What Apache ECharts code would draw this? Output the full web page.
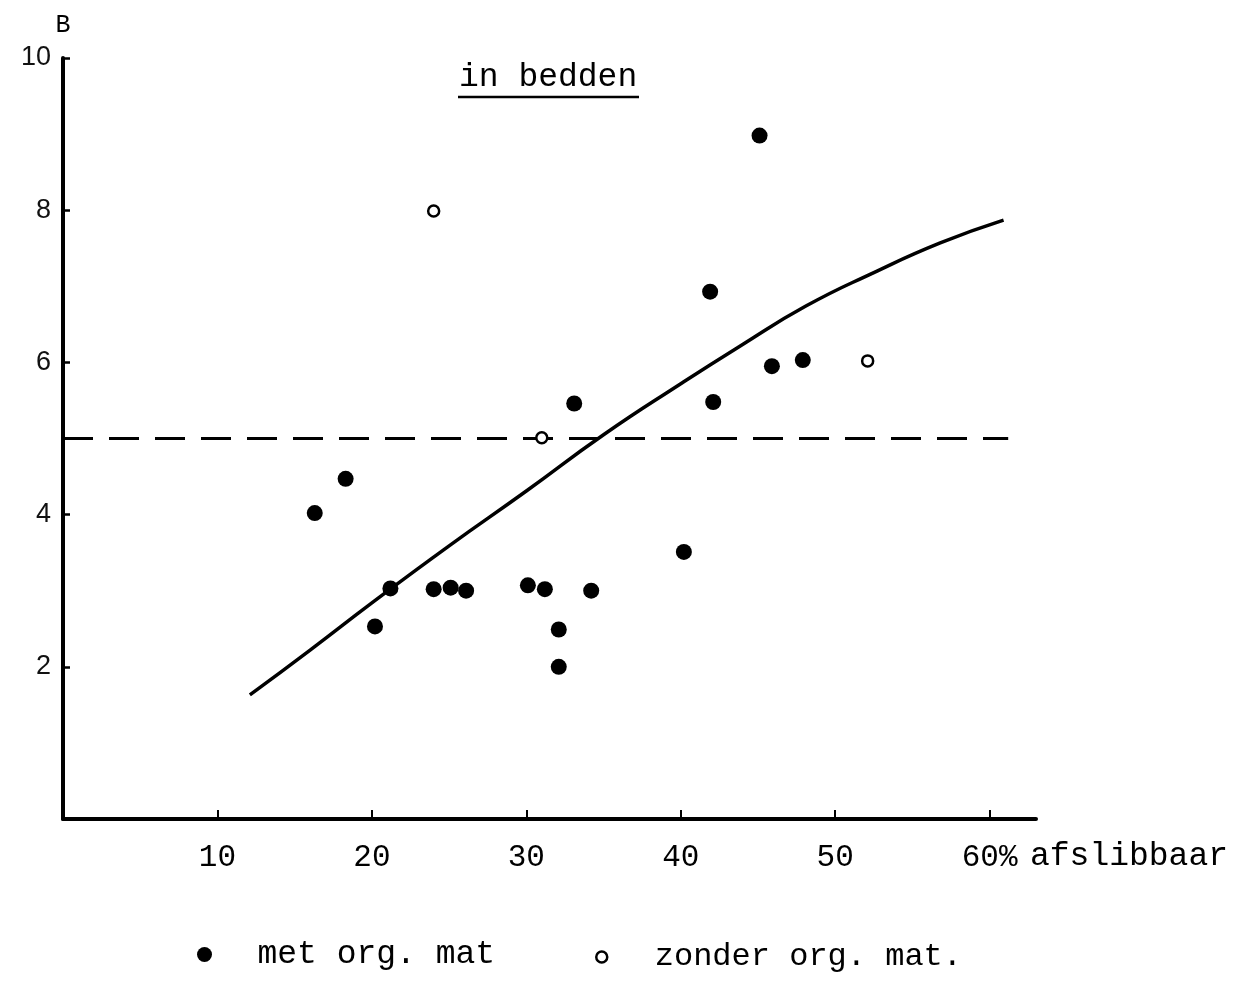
<!DOCTYPE html>
<html>
<head>
<meta charset="utf-8">
<script src="https://cdn.jsdelivr.net/npm/echarts@6/dist/echarts.min.js"></script>
<style>
  html, body { margin: 0; background: #fff; }
  #chart { width: 1242px; height: 990px; }
</style>
</head>
<body>
<div id="chart"></div>
<script>
// afslibbaar (%) vs B
const xTicks = [10, 20, 30, 40, 50, 60];
const yTicks = [2, 4, 6, 8, 10];

const metOrgMat = [
  [16.3, 4.02], [18.3, 4.47], [20.2, 2.53], [21.2, 3.03], [24.0, 3.02],
  [25.1, 3.04], [26.1, 3.0], [30.1, 3.07], [31.2, 3.02], [32.1, 2.49],
  [32.1, 2.0], [33.1, 5.46], [34.2, 3.0], [40.2, 3.51], [41.9, 6.93],
  [42.1, 5.48], [45.1, 8.98], [45.9, 5.95], [47.9, 6.03]
];
const zonderOrgMat = [[24.0, 7.99], [31.0, 5.01], [52.1, 6.02]];

const curve = [
  [12.1, 1.63], [16, 2.22], [20, 2.84], [25, 3.59], [30, 4.31], [35, 5.05],
  [40, 5.72], [43.8, 6.21], [48.1, 6.74], [52.5, 7.18], [56.8, 7.57], [60.9, 7.87]
];
const threshold = [[0, 5], [61.2, 5]];

const mono = "Liberation Mono";
const chart = echarts.init(document.getElementById("chart"));

chart.setOption({
  backgroundColor: "#fff",
  animation: false,
  grid: { left: 63, top: 58, width: 973, height: 761 },
  legend: [
    {
      data: [{ name: "met org. mat", icon: "circle" }],
      left: 192, top: 933,
      itemWidth: 96, itemHeight: 15,
      textStyle: { fontFamily: mono, fontSize: 33, color: "#000" }
    },
    {
      data: [{ name: "zonder org. mat.", icon: "circle" }],
      left: 590, top: 936,
      itemWidth: 96, itemHeight: 11,
      itemStyle: { color: "#fff", borderColor: "#000", borderWidth: 2.5 },
      textStyle: { fontFamily: mono, fontSize: 32, color: "#000" }
    }
  ],
  graphic: [
    {
      type: "text", left: 459, top: 61,
      style: { text: "in bedden", font: "33px 'Liberation Mono'", fill: "#000" }
    },
    {
      type: "line",
      shape: { x1: 458, y1: 97, x2: 639, y2: 97 },
      style: { stroke: "#000", lineWidth: 2.5 }
    }
  ],
  xAxis: {
    type: "value", min: 0, max: 63,
    name: "afslibbaar", nameLocation: "end", nameGap: -6,
    nameTextStyle: {
      fontFamily: mono, fontSize: 33, color: "#000",
      align: "left", verticalAlign: "top", padding: [21, 0, 0, 0]
    },
    axisLine: { lineStyle: { color: "#000", width: 4 } },
    axisTick: { inside: true, length: 9, customValues: xTicks, lineStyle: { color: "#000", width: 2 } },
    axisLabel: {
      customValues: xTicks, margin: 23,
      fontFamily: mono, fontSize: 31, color: "#000",
      formatter: (v) => (v === 60 ? "60%" : String(v))
    },
    splitLine: { show: false }
  },
  yAxis: {
    type: "value", min: 0, max: 10,
    name: "B", nameGap: 20,
    nameTextStyle: { fontFamily: mono, fontSize: 25, color: "#000", align: "center" },
    axisLine: { lineStyle: { color: "#000", width: 4 } },
    axisTick: { inside: true, length: 7, customValues: yTicks, lineStyle: { color: "#000", width: 2.5 } },
    axisLabel: {
      customValues: yTicks, margin: 12,
      fontFamily: "Liberation Sans", fontSize: 27, color: "#111"
    },
    splitLine: { show: false }
  },
  series: [
    {
      type: "line", data: threshold, symbol: "none",
      lineStyle: { color: "#000", width: 3, type: [30, 16] },
      z: 1
    },
    {
      type: "line", data: curve, symbol: "none", smooth: 0.5,
      lineStyle: { color: "#000", width: 3.5 },
      z: 2
    },
    {
      name: "met org. mat", type: "scatter", data: metOrgMat,
      symbol: "circle", symbolSize: 16,
      itemStyle: { color: "#000", opacity: 1 },
      z: 3
    },
    {
      name: "zonder org. mat.", type: "scatter", data: zonderOrgMat,
      symbol: "circle", symbolSize: 11,
      itemStyle: { color: "#fff", borderColor: "#000", borderWidth: 2.5, opacity: 1 },
      z: 3
    }
  ]
});
</script>
</body>
</html>
